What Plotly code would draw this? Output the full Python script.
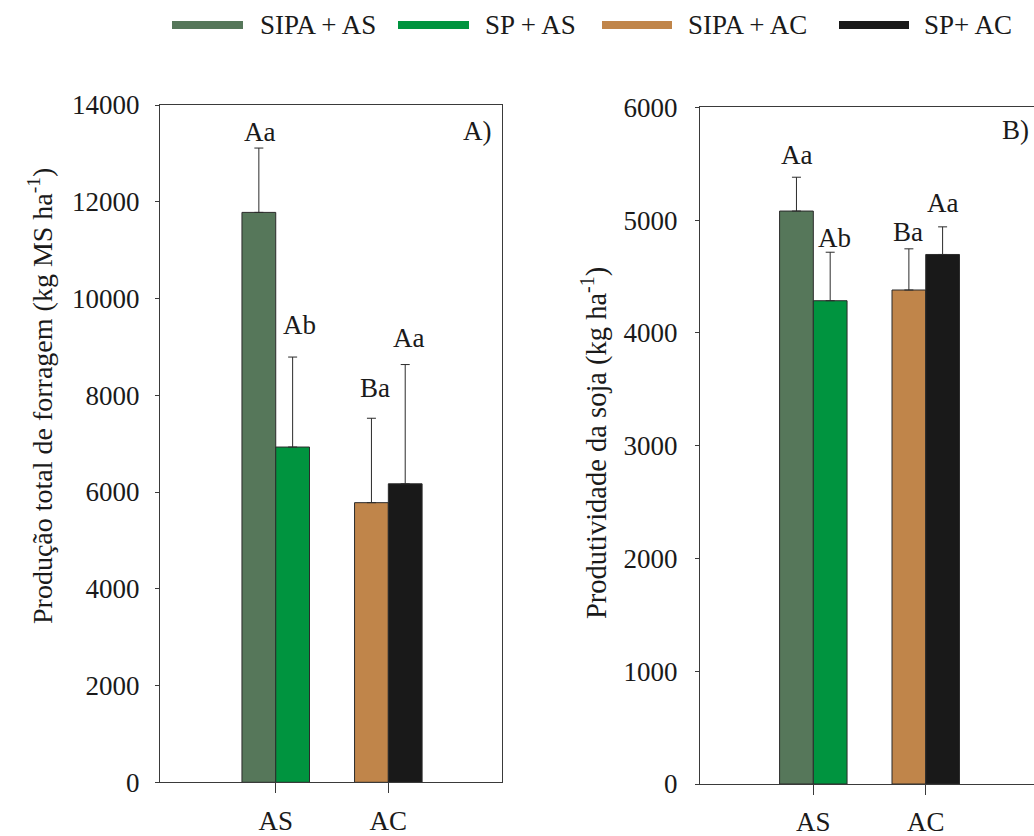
import plotly.graph_objects as go

# ---- data ----
categories = ["AS", "AC"]
series_names = ["SIPA + AS", "SP + AS", "SIPA + AC", "SP+ AC"]
series_category = ["AS", "AS", "AC", "AC"]

# A) total forage production (kg MS/ha)
forage_mean = [11780, 6930, 5780, 6170]
forage_err = [1330, 1860, 1745, 2465]
forage_letters = ["Aa", "Ab", "Ba", "Aa"]

# B) soybean yield (kg/ha)
soy_mean = [5080, 4285, 4380, 4695]
soy_err = [300, 430, 365, 245]
soy_letters = ["Aa", "Ab", "Ba", "Aa"]

forage_ticks = [0, 2000, 4000, 6000, 8000, 10000, 12000, 14000]
soy_ticks = [0, 1000, 2000, 3000, 4000, 5000, 6000]

# ---- style ----
series_colors = ["#56775A", "#00943F", "#C0854A", "#191919"]
bar_width = 0.3
bar_offsets = [-bar_width, 0.0, -bar_width, 0.0]
# pixel nudges of the letter labels above each error bar
forage_label_dy = [16, 32, 30, 27]
forage_label_dx = [1, 7, 4, 3]
soy_label_dy = [22, 14, 17, 24]
soy_label_dx = [0, 4, -1, 0]

FONT = "Liberation Serif"
INK = "#1a1a1a"
AXIS = "#3a3a3a"
W, H = 1034, 836

fig = go.Figure()


def add_panel(means, errs, xa, ya):
    for i, name in enumerate(series_names):
        fig.add_trace(go.Bar(
            x=[series_category[i]], y=[means[i]], name=name,
            width=bar_width, offset=bar_offsets[i],
            marker=dict(color=series_colors[i], line=dict(color="#2b2b2b", width=1)),
            error_y=dict(type="data", array=[errs[i]], arrayminus=[0], symmetric=False,
                         color="#2b2b2b", thickness=1, width=4.5),
            xaxis=xa, yaxis=ya, showlegend=False,
        ))


add_panel(forage_mean, forage_err, "x", "y")
add_panel(soy_mean, soy_err, "x2", "y2")


def add_letters(means, errs, letters, dxs, dys, xref, yref):
    for i, txt in enumerate(letters):
        xc = categories.index(series_category[i]) + bar_offsets[i] + bar_width / 2
        fig.add_annotation(
            x=xc, y=means[i] + errs[i], xref=xref, yref=yref, text=txt,
            showarrow=False, xanchor="center", yanchor="middle",
            xshift=dxs[i], yshift=dys[i],
            font=dict(family=FONT, size=27, color=INK),
        )


add_letters(forage_mean, forage_err, forage_letters, forage_label_dx, forage_label_dy, "x", "y")
add_letters(soy_mean, soy_err, soy_letters, soy_label_dx, soy_label_dy, "x2", "y2")


def px_x(p):
    return p / W


def px_y(p):
    return 1 - p / H


axis_common = dict(showgrid=False, zeroline=False, linecolor=AXIS, linewidth=1,
                   showline=True, ticks="outside", tickcolor=AXIS, tickwidth=1,
                   automargin=False,
                   tickfont=dict(family=FONT, size=27, color=INK))

fig.update_layout(
    width=W, height=H,
    margin=dict(l=0, r=0, t=0, b=0, autoexpand=False),
    paper_bgcolor="white", plot_bgcolor="white",
    barmode="overlay",
    font=dict(family=FONT, color=INK),
    xaxis=dict(domain=[px_x(160), px_x(501.7)], type="category",
               categoryorder="array", categoryarray=categories,
               range=[-1.028, 2.007], mirror=True, ticklen=10,
               ticklabelstandoff=4, anchor="y", **axis_common),
    yaxis=dict(domain=[px_y(782.3), px_y(105)], range=[0, 14000],
               tickvals=forage_ticks, tickformat="d", mirror=True, ticklen=4,
               ticklabelstandoff=10, anchor="x", **axis_common),
    xaxis2=dict(domain=[px_x(700), 1.0], type="category",
                categoryorder="array", categoryarray=categories,
                range=[-1.008, 1.963], mirror=True, ticklen=10,
                ticklabelstandoff=4, anchor="y2", **axis_common),
    yaxis2=dict(domain=[px_y(784), px_y(107.3)], range=[0, 6000],
                tickvals=soy_ticks, tickformat="d", mirror=False, ticklen=4,
                ticklabelstandoff=12, anchor="x2", **axis_common),
)

# axis titles
fig.add_annotation(x=px_x(41), y=px_y(396), xref="paper", yref="paper",
                   text="Produção total de forragem (kg MS ha<sup>-1</sup>)",
                   textangle=-90, showarrow=False, xanchor="center", yanchor="middle",
                   font=dict(family=FONT, size=28, color=INK))
fig.add_annotation(x=px_x(595), y=px_y(443), xref="paper", yref="paper",
                   text="Produtividade da soja (kg ha<sup>-1</sup>)",
                   textangle=-90, showarrow=False, xanchor="center", yanchor="middle",
                   font=dict(family=FONT, size=28.5, color=INK))

# panel tags
fig.add_annotation(x=px_x(477), y=px_y(131), xref="paper", yref="paper", text="A)",
                   showarrow=False, xanchor="center", yanchor="middle",
                   font=dict(family=FONT, size=27, color=INK))
fig.add_annotation(x=px_x(1015), y=px_y(130), xref="paper", yref="paper", text="B)",
                   showarrow=False, xanchor="center", yanchor="middle",
                   font=dict(family=FONT, size=27, color=INK))

# legend row across the top
legend_line_x = [(172, 243), (398, 469), (602, 672), (839, 909)]
legend_text_x = [258, 483, 686, 922]
for i, name in enumerate(series_names):
    x0, x1 = legend_line_x[i]
    fig.add_shape(type="line", xref="paper", yref="paper",
                  x0=px_x(x0), x1=px_x(x1), y0=px_y(25), y1=px_y(25),
                  line=dict(color=series_colors[i], width=8))
    fig.add_annotation(x=px_x(legend_text_x[i]), y=px_y(25), xref="paper", yref="paper",
                       text=name, showarrow=False, xanchor="left", yanchor="middle",
                       font=dict(family=FONT, size=27, color=INK))

fig.write_html("out.html")
